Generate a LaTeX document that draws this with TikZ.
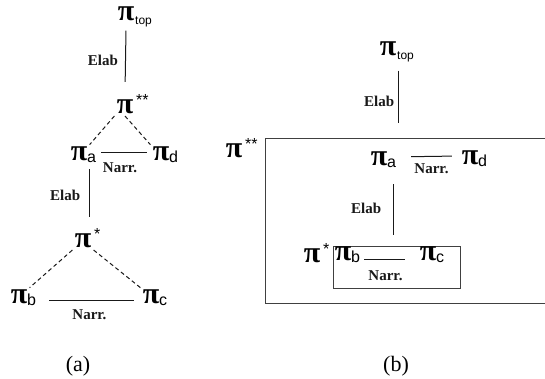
\documentclass[tikz,border=0pt]{standalone}
\usepackage{fontspec}
\setmainfont{Liberation Serif}
\newfontfamily\subfont{Liberation Sans}
\usepackage{tikz}
\usetikzlibrary{positioning, calc}

\newcommand{\pis}[1]{π\rlap{\raisebox{-1pt}{\mdseries\subfont\fontsize{8}{8}\selectfont #1}}}
\newcommand{\pitop}{π\rlap{\kern0.5pt\raisebox{-2pt}{\mdseries\subfont\fontsize{6}{6}\selectfont top}}}
\newcommand{\pistar}[1]{π\rlap{\kern1.5pt\raisebox{4pt}{\mdseries\subfont\fontsize{8}{8}\selectfont #1}}}

\tikzset{
  pinode/.style={inner sep=1pt, font=\fontsize{15}{15}\selectfont\bfseries},
  rel/.style={font=\fontsize{7.5}{8}\selectfont\bfseries, inner sep=1.5pt},
  link/.style={line width=0.5pt, color=black!90},
  sublink/.style={link, dash pattern=on 2pt off 1.5pt},
  boxframe/.style={draw=black!75, line width=0.6pt, inner sep=0pt},
  caption/.style={font=\fontsize{11}{13}\selectfont}
}

\begin{document}
\begin{tikzpicture}[x=0.5pt, y=-0.5pt]
  \useasboundingbox (0,0) rectangle (545,379);

  % (a) tree
  \node[pinode] (ta) at (126,17) {\pitop};
  \node[pinode] (ss) at (125,104) {\pistar{**}};
  \node[pinode] (pa) at (79,155) {\pis{a}};
  \node[pinode] (pd) at (161,155) {\pis{d}};
  \node[pinode] (ps) at (83,238) {\pistar{*}};
  \node[pinode] (pb) at (19,298) {\pis{b}};
  \node[pinode] (pc) at (151,298) {\pis{c}};

  \draw[link, shorten <=0.5pt, shorten >=5pt] (ta.south) -- (ss.north)
    node[midway, left=2pt, rel] {Elab};
  \draw[sublink] (ss.south west) -- (pa.north east);
  \draw[sublink] (ss.south) -- (pd.north west);
  \draw[link, shorten <=5.75pt, shorten >=1.5pt] ([yshift=1pt]pa.east) -- ([yshift=1pt]pd.west)
    node[pos=0.5, below=3pt, rel] {Narr.};
  \draw[link, shorten <=2pt, shorten >=4.6pt] (pa.south east) -- (pa.south east |- ps.north)
    node[midway, left=3pt, rel] {Elab};
  \draw[sublink] (ps.south west) -- (pb.north east);
  \draw[sublink] (ps.south east) -- (pc.north west);
  \draw[link, shorten <=9.75pt, shorten >=3.25pt] ([yshift=-1pt]pb.east) -- ([yshift=-1pt]pc.west)
    node[pos=0.54, below=3pt, rel] {Narr.};

  \node[caption] (capa) at (78,366) {(a)};

  % (b) boxes
  \node[pinode] (btop) at (388,52) {\pitop};
  \node[boxframe, minimum width=141pt, minimum height=82.5pt, anchor=north west] (bbig) at (265,138) {};
  \node[pinode] (bss) at (234,148) {\pistar{**}};
  \draw[link, shorten <=3pt, shorten >=7.5pt] (btop.south east) -- (btop.south east |- bbig.north)
    node[midway, left=0.5pt, rel] {Elab};

  \node[pinode] (bpa) at (379,160) {\pis{a}};
  \node[pinode] (bpd) at (470,159) {\pis{d}};
  \draw[link, shorten <=10.75pt, shorten >=3.75pt] ([yshift=1.5pt]bpa.east) -- ([yshift=1.5pt]bpd.west)
    node[pos=0.6, below=2pt, rel] {Narr.};

  \node[boxframe, minimum width=63.5pt, minimum height=21pt, anchor=north west] (bsmall) at (333,246) {};
  \draw[link, shorten <=7pt, shorten >=5.5pt] ([xshift=2pt]bpa.south east) -- ([xshift=2pt]bpa.south east |- bsmall.north)
    node[midway, left=4.5pt, rel] {Elab};

  \node[pinode] (bps) at (312,253) {\pistar{*}};
  \node[pinode] (bpb) at (343,255) {\pis{b}};
  \node[pinode] (bpc) at (428,255) {\pis{c}};
  \draw[link, shorten <=5.25pt, shorten >=6.25pt] ([yshift=-2pt]bpb.east) -- ([yshift=-2pt]bpc.west)
    node[midway, below=4pt, rel] {Narr.};

  \node[caption] (capb) at (396,366) {(b)};
\end{tikzpicture}
\end{document}
